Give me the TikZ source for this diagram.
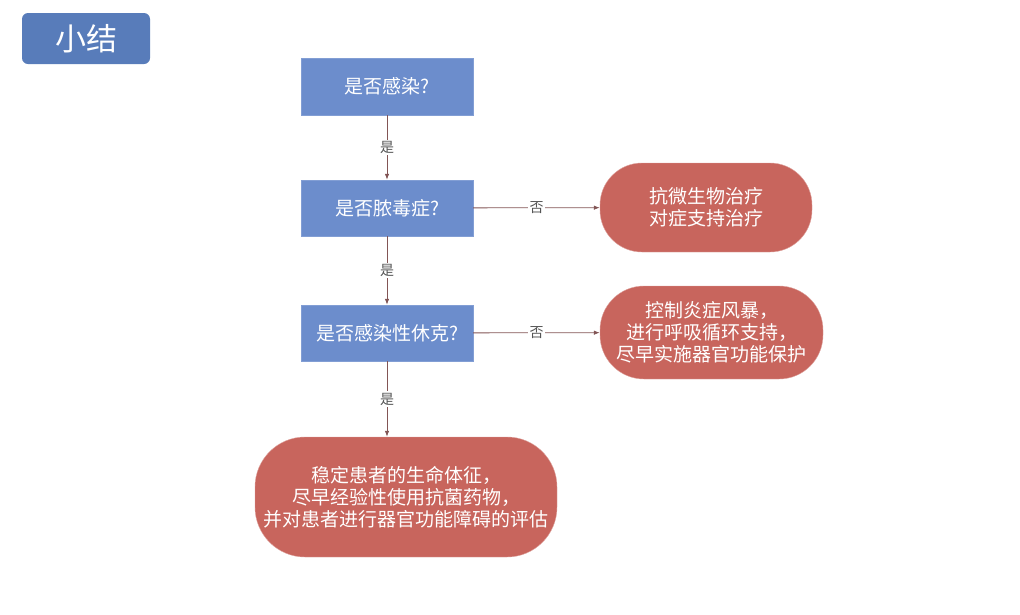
\documentclass[tikz,border=0pt]{standalone}
\usepackage{fontspec}
\setmainfont{Noto Sans CJK SC}
\usepackage{xcolor}
\usetikzlibrary{arrows.meta}
\usetikzlibrary{positioning}

\definecolor{titleblue}{RGB}{88,124,186}
\definecolor{qblue}{RGB}{108,141,204}
\definecolor{ansred}{RGB}{200,101,93}
\definecolor{linkbrown}{RGB}{130,85,85}
\definecolor{lblgray}{RGB}{85,85,85}

\begin{document}
\begin{tikzpicture}[
	x=1pt, y=-1pt,
	font=\fontsize{19}{22}\selectfont
]
\tikzset{
    titlebox/.style = {rectangle, rounded corners=6pt, fill=titleblue, text=white, minimum width=128pt, minimum height=51pt, font=\fontsize{31}{34}\selectfont},
    qbox/.style = {rectangle, draw=qblue!85!white, fill=qblue, text=white, align=center, minimum width=172pt, minimum height=56pt},
    ansbox/.style = {rectangle, draw=ansred!60!white, fill=ansred, text=white, align=center},
    link/.style = {draw=linkbrown, line width=0.8pt, -{Latex[length=6pt,width=4.5pt]}},
    yesno/.style = {fill=white, text=lblgray, inner sep=1.5pt, font=\fontsize{14}{16}\selectfont}
}
\useasboundingbox (0,0) rectangle (1020,614);
% title
\node[titlebox] (title) at (86,38.5) {小结};
% questions
\node[qbox,minimum height=57pt] (infect) at (387,86.5) {是否感染?};
\node[qbox] (sepsis) at (387,208) {是否脓毒症?};
\node[qbox] (shock) at (387,333) {是否感染性休克?};
% answers
\node[ansbox,rounded corners=42pt,minimum width=212pt,minimum height=89pt] (treatA) at (706,207.5) {抗微生物治疗\\对症支持治疗};
\node[ansbox,rounded corners=44pt,minimum width=223pt,minimum height=93pt] (treatB) at (711.5,332.5) {控制炎症风暴，\\进行呼吸循环支持，\\尽早实施器官功能保护};
\node[ansbox,rounded corners=50pt,minimum width=302pt,minimum height=120pt] (treatC) at (406,497) {稳定患者的生命体征，\\尽早经验性使用抗菌药物，\\并对患者进行器官功能障碍的评估};
% connectors
\draw[link] (infect) -- node[yesno] {是} (sepsis);
\draw[link] (sepsis) -- node[yesno] {是} (shock);
\draw[link] (sepsis) -- node[yesno] {否} (treatA);
\draw[link] (shock) -- node[yesno] {否} (treatB);
\draw[link] (shock) -- node[yesno] {是} (shock |- treatC.north);
\end{tikzpicture}
\end{document}
